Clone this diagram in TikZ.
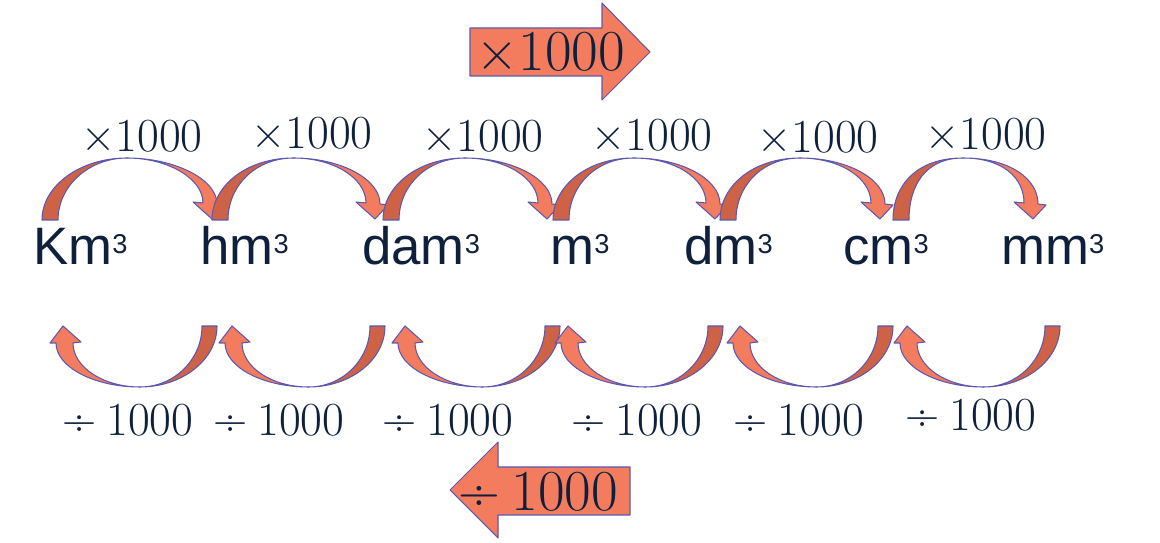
\documentclass[tikz,border=0pt]{standalone}
\usepackage{fontspec}
\usepackage{xcolor}
\usepackage{tikz}
\usetikzlibrary{positioning,calc}
\newfontfamily\unitfont{Liberation Sans}
\definecolor{arrowlight}{RGB}{244,124,94}
\definecolor{arrowdark}{RGB}{206,98,70}
\definecolor{arrowedge}{RGB}{92,88,178}
\definecolor{labelnavy}{RGB}{14,32,60}
\newcommand{\cubeexp}{\raisebox{6.5pt}{\fontsize{15.5}{15.5}\selectfont 3}}

\begin{document}
\begin{tikzpicture}[x=0.02cm,y=-0.02cm,
	unit/.style={anchor=base west,inner sep=0pt,text=labelnavy,font=\unitfont\fontsize{30}{30}\selectfont},
	factor/.style={inner sep=0pt,text=labelnavy,font=\fontsize{27}{27}\selectfont},
	bigfactor/.style={inner sep=0pt,text=labelnavy,font=\fontsize{33}{33}\selectfont},
	block/.style={draw=arrowedge,line width=0.6pt,line join=round}]
	\useasboundingbox (0,0) rectangle (1160,543);
	% big arrows
	\path[block,fill=arrowlight] (470,28) -- (602,28) -- (602,3) -- (650,52) -- (602,100) -- (602,76) -- (470,76) -- cycle;
	\node[bigfactor] (times) at (551,52) {×1000};
	\path[block,fill=arrowlight] (450,490) -- (498,442) -- (498,467) -- (630,467) -- (630,515) -- (498,515) -- (498,538) -- cycle;
	\node[bigfactor] (divide) at (538,492) {÷\hspace{0.2em}1000};
	% units
	\node[unit] (km) at (33,265) {Km\cubeexp};
	\node[unit] (hm) at (200,265) {hm\cubeexp};
	\node[unit] (dam) at (362,265) {dam\cubeexp};
	\node[unit] (m) at (550,265) {m\cubeexp};
	\node[unit] (dm) at (684,265) {dm\cubeexp};
	\node[unit] (cm) at (843,265) {cm\cubeexp};
	\node[unit] (mm) at (1001,265) {mm\cubeexp};
	% upper arcs
	\foreach \f/\t in {42/212,212/375,383/547,553/715,720/880,893/1033}{
		\pgfmathsetmacro{\a}{(\f+\t)/2}
		\path[block,fill=arrowdark] (\f,220) .. controls (\f,186) and (\a-47,158) .. (\a,158)
			.. controls (\a-38,158) and (\f+16,186) .. (\f+16,220) -- cycle;
		\path[block,fill=arrowlight] (\a,158) .. controls (\a+47,158) and (\t+5,179) .. (\t+5,204)
			-- (\t+13,205) -- (\t,219) -- (\t-19,202) -- (\t-9,203)
			.. controls (\t-9,178) and (\a+40,158) .. (\a,158) -- cycle;
	}
	% lower arcs
	\foreach \t/\g in {63/217,232/385,405/560,568/723,740/893,907/1060}{
		\pgfmathsetmacro{\b}{(\t+\g)/2}
		\path[block,fill=arrowdark] (\g,326) .. controls (\g,360) and (\b+42,387) .. (\b,387)
			.. controls (\b+34,387) and (\g-15,360) .. (\g-15,326) -- cycle;
		\path[block,fill=arrowlight] (\b,387) .. controls (\b-46,387) and (\t-7,367) .. (\t-7,343)
			-- (\t-13,343) -- (\t,326) -- (\t+18,342) -- (\t+10,343)
			.. controls (\t+10,367) and (\b-37,387) .. (\b,387) -- cycle;
	}
	% factors
	\foreach \x/\y [count=\i] in {142/136,312/133,483/136,652/135,818/137,986/134}
		\node[factor] (up\i) at (\x,\y) {×1000};
	\foreach \x/\y [count=\i] in {128/420,279/420,448/420,637/420,799/420,971/415}
		\node[factor] (down\i) at (\x,\y) {÷\hspace{0.2em}1000};
\end{tikzpicture}
\end{document}
